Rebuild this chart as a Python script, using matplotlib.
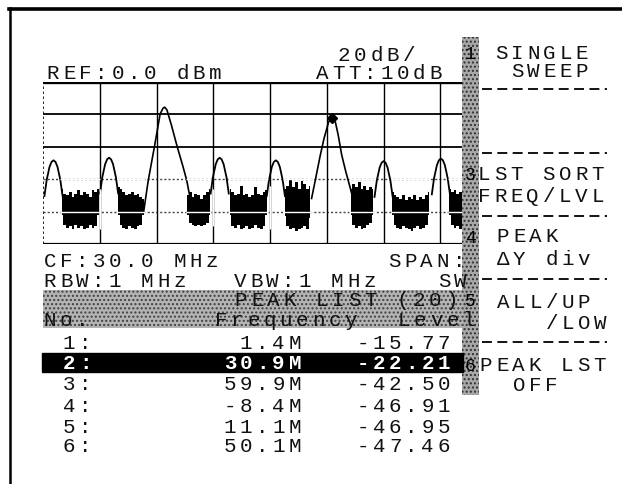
#
#	Spectrum analyser screen dump: peak list of a comb spectrum
#

# ----- Imports ----- #
import numpy as np
import matplotlib
matplotlib.use("Agg")
import matplotlib.pyplot as plt
from matplotlib.patches import Rectangle

# ----- Data ----- #

# Screen scale: reference level, dB per division, frequency span shown
ref_level = 0.0
db_per_div = 20
f_left = -20.0
f_right = 54.0

# Small comb lines (MHz, dBm)
small_peak_freq = [-18.2, -8.4, 11.1, 21.0, 40.0, 50.1]
small_peak_level = [-48.5, -46.91, -46.95, -48.5, -49.0, -47.46]

# Shape of one small line (offset MHz, drop dB)
small_df = [-1.6, -1.2, -0.7, -0.35, 0.0, 0.35, 0.7, 1.2, 1.6]
small_drop = [22, 12, 4, 1, 0, 1, 4, 12, 22]

# The two strong lines
big1_freq = [-2.3, -1.5, -0.4, 0.6, 1.1, 1.4, 1.8, 2.6, 3.6, 4.6, 5.3, 5.9]
big1_level = [-80, -61, -40, -20, -16.5, -15.77, -17.5, -27, -40, -52, -61, -72]
big2_freq = [27.3, 28.0, 28.8, 29.5, 30.3, 30.9, 31.5, 32.0, 32.6, 33.3, 34.0, 34.6]
big2_level = [-72, -60, -46, -35, -25, -22.21, -25, -33, -45, -55, -64, -72]

# Noise floor between lines: start freq, upper / lower envelope every 0.5 MHz
noise_start = [-16.75, -6.8, 5.4, 12.9, 22.6, 34.2, 41.5, 51.6]
noise_hi = [
	[-66, -69, -70, -68, -71, -69, -67, -70, -68, -69, -71, -67, -68, -66],
	[-65, -66, -68, -70, -69, -68, -70, -69, -71, -72],
	[-70, -68, -71, -69, -70, -72, -70, -68, -66],
	[-66, -68, -70, -69, -64, -70, -69, -71, -70, -65, -69, -70, -68, -67],
	[-66, -64, -60, -65, -62, -66, -61, -63, -66, -64],
	[-66, -63, -65, -62, -66, -64, -67, -65, -66],
	[-68, -70, -71, -72, -70, -73, -71, -72, -70, -73, -71, -72, -70, -68],
	[-66, -68, -67, -69, -68, -70, -69],
]
noise_lo = [
	[-82, -88, -90, -89, -91, -88, -90, -89, -91, -90, -88, -90, -89, -82],
	[-82, -88, -90, -91, -89, -90, -91, -89, -88, -82],
	[-82, -87, -88, -89, -88, -89, -88, -87, -82],
	[-82, -89, -90, -88, -91, -90, -89, -91, -90, -88, -90, -91, -89, -82],
	[-83, -89, -91, -90, -92, -91, -90, -89, -91, -84],
	[-82, -88, -90, -89, -91, -90, -88, -87, -82],
	[-82, -88, -90, -91, -89, -90, -91, -92, -90, -89, -91, -90, -88, -82],
	[-82, -88, -90, -89, -91, -90, -89],
]

# Peak list table
list_no = [1, 2, 3, 4, 5, 6]
list_freq = [1.4, 30.9, 59.9, -8.4, 11.1, 50.1]
list_level = [-15.77, -22.21, -42.50, -46.91, -46.95, -47.46]
marker_row = 2

# ----- Layout (pixels) ----- #
W, H = 622, 484
PITCH = 16.2
FS = 15
FONT = "Liberation Mono"

fig = plt.figure(figsize=(W / 100, H / 100), dpi=100)

# Graticule area
gx0, gx1, gy0, gy1 = 43.3, 463.0, 81.5, 244.0
ax = fig.add_axes([gx0 / W, 1 - gy1 / H, (gx1 - gx0) / W, (gy1 - gy0) / H], zorder=1)
ax.set_xlim(f_left, f_right)
ax.set_ylim(ref_level - 5 * db_per_div, ref_level)
ax.axis("off")

# Overlay for text and screen furniture, in pixel coordinates
ov = fig.add_axes([0, 0, 1, 1], zorder=2)
ov.set_xlim(0, W)
ov.set_ylim(H, 0)
ov.axis("off")
ov.patch.set_alpha(0)


def put(x, y, s, color="#111111", weight="normal"):
	# draw a string on the fixed character grid of the instrument
	for i, ch in enumerate(s):
		if ch != " ":
			ov.text(x + i * PITCH + 6, y, ch, ha="center", va="baseline", family=FONT,
					fontsize=FS, color=color, fontweight=weight, zorder=5)


# ----- Graticule ----- #
for k in range(1, 5):
	lvl = ref_level - k * db_per_div
	if k <= 2:
		ax.axhline(lvl, color="black", lw=1.3, zorder=1)
	else:
		ax.axhline(lvl, color="#444444", lw=1.0, ls=(0, (1.5, 1.5)), zorder=1)
ax.axhline(ref_level, color="black", lw=2.4, zorder=1)
ax.axhline(ref_level - 5 * db_per_div, color="black", lw=1.6, zorder=1)
ax.axvline(f_left, color="black", lw=1.2, ls=(0, (1.5, 1.5)), zorder=1)
grid_f = np.arange(f_left + 10, f_right, 10)
for gf in grid_f:
	ax.axvline(gf, color="black", lw=1.0, zorder=1)

# ----- Trace ----- #
for f0, hi, lo in zip(noise_start, noise_hi, noise_lo):
	f = f0 + 0.5 * np.arange(len(hi))
	ax.fill_between(f, lo, hi, step="mid", color="black", lw=0, zorder=3)
	# graticule shows through the noise in inverse video
	ax.hlines([-60, -80], f[0] - 0.25, f[-1] + 0.25, color="white", lw=1.0, zorder=5)
	for gf in grid_f:
		if f[0] - 0.6 <= gf <= f[-1] + 0.6:
			ax.vlines(gf, min(lo), max(hi), color="white", lw=1.0, zorder=5)

for pf, pl in zip(small_peak_freq, small_peak_level):
	ax.plot(np.array(small_df) + pf, pl - np.array(small_drop), color="black", lw=1.3, zorder=4)
ax.plot(big1_freq, big1_level, color="black", lw=1.2, zorder=4)
ax.plot(big2_freq, big2_level, color="black", lw=1.2, zorder=4)
ax.plot(list_freq[marker_row - 1], list_level[marker_row - 1], marker="D", ms=5,
		color="black", zorder=6)

# ----- Screen furniture ----- #
ov.plot([9.5, 9.5], [8, H], color="black", lw=1.8)
ov.plot([9, W], [8.5, 8.5], color="black", lw=2.6)

# softkey number bar
ov.add_patch(Rectangle((462, 37), 17, 358, facecolor="#a8a8a8", edgecolor="#303030",
					   hatch="....", lw=0, zorder=3))
for n, y in zip(["1", "3", "4", "5", "6"], [59, 180, 243, 306, 371]):
	ov.text(470.5, y, n, ha="center", va="baseline", family=FONT, fontsize=FS - 2,
			color="black", zorder=5)

# softkey separators
for y in [89, 153, 216, 279, 342]:
	ov.hlines(y, 482, 607, color="black", lw=1.3, linestyles=(0, (5.5, 3)))

# ----- Text ----- #
put(338, 61, "20dB/")
put(47, 79, "REF:0.0 dBm")
put(316, 79, "ATT:10dB")

put(44, 267, "CF:30.0 MHz")
put(388, 267, "SPAN:")
put(44, 287, "RBW:1 MHz")
put(234, 287, "VBW:1 MHz")
put(438, 287, "SW")

# peak list header on stippled background
ov.add_patch(Rectangle((43, 290), 420, 38, facecolor="#b4b4b4", edgecolor="#404040",
					   hatch="....", lw=0, zorder=3))
put(235, 306, "PEAK LIST (20)")
put(44, 326, "No.")
put(215, 326, "Frequency")
put(398, 326, "Level")

row_base = [349, 369, 390, 412, 433, 452]
for no, fq, lv, yb in zip(list_no, list_freq, list_level, row_base):
	fs = f"{fq:.1f}M"
	ls = f"{lv:.2f}"
	if no == marker_row:
		ov.add_patch(Rectangle((42, yb - 16), 421, 19, color="black", zorder=3))
		c, wt = "white", "bold"
	else:
		c, wt = "#111111", "normal"
	put(63, yb, f"{no}:", color=c, weight=wt)
	put(305 - len(fs) * PITCH, yb, fs, color=c, weight=wt)
	put(454 - len(ls) * PITCH, yb, ls, color=c, weight=wt)

# softkey menu
put(495, 59, "SINGLE")
put(511, 77, "SWEEP")
put(478, 180, "LST SORT")
put(478, 202, "FREQ/LVL")
put(497, 242, "PEAK")
put(497, 265, "ΔY div")
put(497, 308, "ALL/UP")
put(546, 329, "/LOW")
put(480, 371, "PEAK LST")
put(513, 391, "OFF")

fig.savefig("out.png", dpi=100)
